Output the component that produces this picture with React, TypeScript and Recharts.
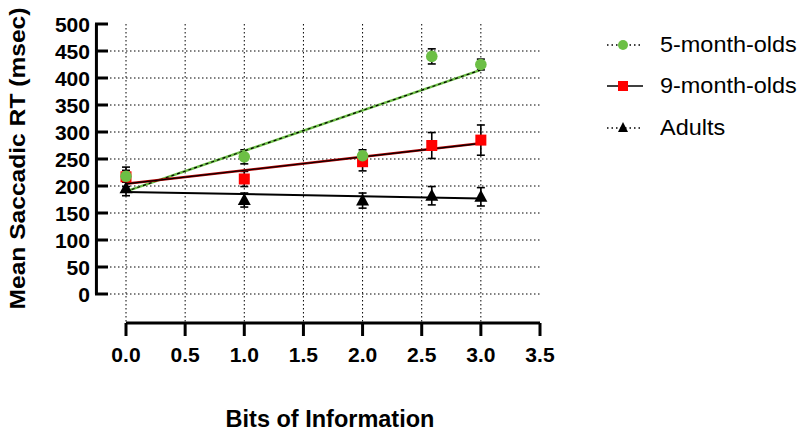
import React from 'react'
import {
  ComposedChart, Scatter, ErrorBar, XAxis, YAxis, CartesianGrid, ReferenceLine, Label,
} from 'recharts'

// bits of information: log2 of 1, 2, 4, 6, 8 alternatives
const bits = [0, 1, 2, 2.585, 3]

const fiveMonthRT = [218, 254, 256, 440, 425]
const fiveMonthErr = [11, 13, 11, 14, 10]
const nineMonthRT = [217, 213, 245, 275, 285]
const nineMonthErr = [18, 14, 17, 24, 28]
const adultRT = [196, 174, 173, 182, 180]
const adultErr = [14, 13, 14, 17, 17]

// regression lines, end points
const fitBits = [0, 3]
const fiveMonthFit = [190, 415]
const nineMonthFit = [204, 279]
const adultFit = [189, 177]

const xTicks = [0, 0.5, 1, 1.5, 2, 2.5, 3, 3.5]
const yTicks = [0, 50, 100, 150, 200, 250, 300, 350, 400, 450, 500]

const GREEN = '#6cbf45'
const RED = '#ff0000'
const FONT = '"Liberation Sans", Arial, Helvetica, sans-serif'

const toPoints = (xs: number[], ys: number[], errs?: number[]) =>
  xs.map((x, i) => ({ x, y: ys[i], err: errs ? errs[i] : 0 }))

const fiveData = toPoints(bits, fiveMonthRT, fiveMonthErr)
const nineData = toPoints(bits, nineMonthRT, nineMonthErr)
const adultData = toPoints(bits, adultRT, adultErr)

const fiveFitData = toPoints(fitBits, fiveMonthFit)
const nineFitData = toPoints(fitBits, nineMonthFit)
const adultFitData = toPoints(fitBits, adultFit)

// eslint-disable-next-line @typescript-eslint/no-explicit-any
const Circle = ({ cx, cy }: any) => <circle cx={cx} cy={cy} r={5.8} fill={GREEN} />
// eslint-disable-next-line @typescript-eslint/no-explicit-any
const Square = ({ cx, cy }: any) => <rect x={cx - 5.5} y={cy - 5.5} width={11} height={11} fill={RED} />
// eslint-disable-next-line @typescript-eslint/no-explicit-any
const Triangle = ({ cx, cy }: any) => (
  <path d={`M${cx},${cy - 7} L${cx + 6.5},${cy + 5} L${cx - 6.5},${cy + 5} Z`} fill="#000" />
)
const NoDot = () => <g />

// eslint-disable-next-line @typescript-eslint/no-explicit-any
const YTick = ({ x, y, payload }: any) => (
  <g>
    <line x1={x - 15} y1={y} x2={x - 2} y2={y} stroke="#000" strokeWidth={3} />
    <text transform={`translate(${x - 20},${y + 8}) scale(1.08,1)`} textAnchor="end" fontSize={19.5} fontWeight={700} fill="#000" fontFamily={FONT}>
      {payload.value}
    </text>
  </g>
)

// eslint-disable-next-line @typescript-eslint/no-explicit-any
const XTick = ({ x, y, payload }: any) => (
  <text transform={`translate(${x},${y + 14.5}) scale(1.08,1)`} textAnchor="middle" fontSize={19.5} fontWeight={700} fill="#000" fontFamily={FONT}>
    {Number(payload.value).toFixed(1)}
  </text>
)

const legendItems = [
  { name: '5-month-olds', color: GREEN, dash: '1.5 3', shape: 'circle' },
  { name: '9-month-olds', color: RED, dash: undefined, shape: 'square' },
  { name: 'Adults', color: '#000', dash: '1.5 3', shape: 'triangle' },
]

function LegendBox() {
  return (
    <div style={{ position: 'absolute', left: 605, top: 24, fontFamily: FONT }}>
      {legendItems.map((item) => (
        <div key={item.name} style={{ display: 'flex', alignItems: 'center', height: 41.5 }}>
          <svg width={38} height={20} style={{ marginRight: 17 }}>
            <line x1={2} y1={10} x2={38} y2={10} stroke="#000" strokeWidth={1.3} strokeDasharray={item.dash} />
            {item.shape === 'circle' && <circle cx={18} cy={10} r={5} fill={item.color} />}
            {item.shape === 'square' && <rect x={13} y={5} width={10} height={10} fill={item.color} />}
            {item.shape === 'triangle' && <path d="M18,4 L23,14 L13,14 Z" fill="#000" />}
          </svg>
          <span style={{ fontSize: 22, color: '#000', display: 'inline-block', transform: 'scaleX(1.065)', transformOrigin: 'left center' }}>
            {item.name}
          </span>
        </div>
      ))}
    </div>
  )
}

export default function App() {
  return (
    <div style={{ position: 'absolute', left: 0, top: 0, width: 799, height: 432, background: '#fff' }}>
      <ComposedChart width={799} height={432} margin={{ top: 24, right: 259, bottom: 0, left: 0 }}>
        <CartesianGrid
          stroke="#000"
          strokeDasharray="1.5 2.5"
          horizontalValues={[0, 50, 100, 150, 200, 250, 300, 350, 400, 450]}
          verticalValues={[0, 0.5, 1, 1.5, 2, 2.5, 3]}
        />
        <XAxis
          dataKey="x"
          type="number"
          domain={[0, 3.5]}
          ticks={xTicks}
          padding={{ left: 16, right: 0 }}
          height={109}
          axisLine={false}
          tickLine={{ stroke: '#000', strokeWidth: 3 }}
          tickSize={13}
          tickMargin={11}
          tick={<XTick />}
        >
          <Label
            // eslint-disable-next-line @typescript-eslint/no-explicit-any
            content={({ viewBox }: any) => (
              <text x={viewBox.x + 220} y={viewBox.y + viewBox.height - 5} textAnchor="middle" fontSize={23.5} fontWeight={700} fill="#000" fontFamily={FONT}>
                Bits of Information
              </text>
            )}
          />
        </XAxis>
        <YAxis
          dataKey="y"
          type="number"
          domain={[0, 500]}
          ticks={yTicks}
          padding={{ top: 0, bottom: 29 }}
          width={110}
          axisLine={false}
          tickLine={false}
          tickSize={0}
          tickMargin={0}
          tick={<YTick />}
        >
          <Label
            // eslint-disable-next-line @typescript-eslint/no-explicit-any
            content={({ viewBox }: any) => {
              const cx = viewBox.x + 25
              const cy = viewBox.y + viewBox.height / 2 - 15
              return (
                <text x={cx} y={cy} transform={`rotate(-90 ${cx} ${cy})`} textAnchor="middle" fontSize={22.5}
                  fontWeight={700} fill="#000" fontFamily={FONT} textLength={302} lengthAdjust="spacingAndGlyphs">
                  Mean Saccadic RT (msec)
                </text>
              )
            }}
          />
        </YAxis>

        {/* axis lines */}
        <ReferenceLine segment={[{ x: -0.25, y: 0 }, { x: -0.25, y: 500 }]} stroke="#000" strokeWidth={3} ifOverflow="visible" />
        <ReferenceLine segment={[{ x: 0, y: -53.7 }, { x: 3.5, y: -53.7 }]} stroke="#000" strokeWidth={3} ifOverflow="visible" />

        {/* regression lines */}
        <Scatter data={fiveFitData} shape={<NoDot />} line={{ stroke: GREEN, strokeWidth: 2.5 }} isAnimationActive={false} legendType="none" />
        <Scatter data={fiveFitData} shape={<NoDot />} line={{ stroke: '#000', strokeWidth: 1.2, strokeDasharray: '3 3' }} isAnimationActive={false} legendType="none" />
        <Scatter data={nineFitData} shape={<NoDot />} line={{ stroke: '#b00000', strokeWidth: 2.5 }} isAnimationActive={false} legendType="none" />
        <Scatter data={nineFitData} shape={<NoDot />} line={{ stroke: '#000', strokeWidth: 1.2 }} isAnimationActive={false} legendType="none" />
        <Scatter data={adultFitData} shape={<NoDot />} line={{ stroke: '#000', strokeWidth: 2 }} isAnimationActive={false} legendType="none" />

        {/* group means with SE bars */}
        <Scatter data={adultData} shape={<Triangle />} isAnimationActive={false}>
          <ErrorBar dataKey="err" direction="y" width={4} stroke="#000" strokeWidth={1.6} />
        </Scatter>
        <Scatter data={nineData} shape={<Square />} isAnimationActive={false}>
          <ErrorBar dataKey="err" direction="y" width={4} stroke="#000" strokeWidth={1.6} />
        </Scatter>
        <Scatter data={fiveData} shape={<Circle />} isAnimationActive={false}>
          <ErrorBar dataKey="err" direction="y" width={4} stroke="#000" strokeWidth={1.6} />
        </Scatter>
      </ComposedChart>
      <LegendBox />
    </div>
  )
}
